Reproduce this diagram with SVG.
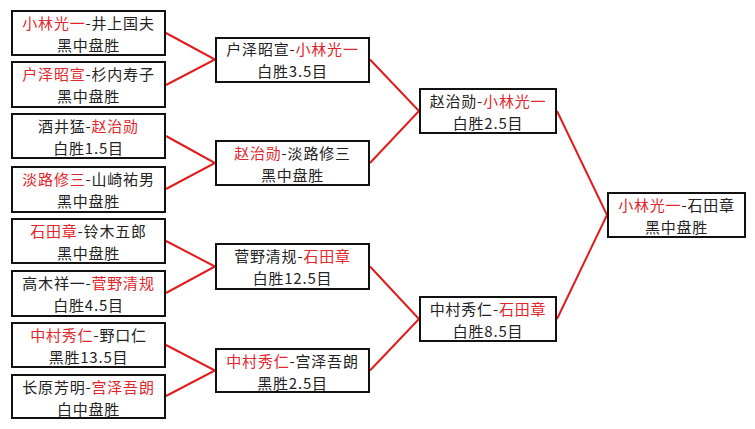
<svg xmlns="http://www.w3.org/2000/svg" width="755" height="429" viewBox="0 0 755 429">
<style>
.bg{fill:#ffffff}
.box{fill:#ffffff;stroke:#111111;stroke-width:2}
.t{font-family:"Noto Sans CJK SC","Noto Sans CJK JP",sans-serif;font-size:15px;letter-spacing:0.8px;fill:#222222;text-anchor:middle}
.r{fill:#e2262c}
.ln{stroke:#e21b1b;stroke-width:2;fill:none}
</style>
<rect class="bg" x="0" y="0" width="755" height="429"/>
<g id="connectors">
<polyline class="ln" points="166,33 215,59.5 166,85"/>
<polyline class="ln" points="166,136 215,163 166,189"/>
<polyline class="ln" points="166,241 215,266.5 166,293"/>
<polyline class="ln" points="166,345 215,370.5 166,396"/>
<polyline class="ln" points="370,59.5 419,111 370,163"/>
<polyline class="ln" points="370,266.5 419,319 370,370.5"/>
<polyline class="ln" points="557,111 607,215 557,319"/>
</g>
<g id="n1"><rect class="box" x="12" y="11" width="153" height="44"/>
<text class="t" x="88.5" y="29"><tspan class="r">小林光一</tspan>-井上国夫</text>
<text class="t" x="88.5" y="51">黑中盘胜</text></g>
<g id="n2"><rect class="box" x="12" y="62" width="153" height="45"/>
<text class="t" x="88.5" y="80"><tspan class="r">户泽昭宣</tspan>-杉内寿子</text>
<text class="t" x="88.5" y="102">黑中盘胜</text></g>
<g id="n3"><rect class="box" x="12" y="114" width="153" height="44"/>
<text class="t" x="88.5" y="132">酒井猛-<tspan class="r">赵治勋</tspan></text>
<text class="t" x="88.5" y="154">白胜1.5目</text></g>
<g id="n4"><rect class="box" x="12" y="167" width="153" height="45"/>
<text class="t" x="88.5" y="185"><tspan class="r">淡路修三</tspan>-山崎祐男</text>
<text class="t" x="88.5" y="207">黑中盘胜</text></g>
<g id="n5"><rect class="box" x="12" y="219" width="153" height="44"/>
<text class="t" x="88.5" y="237"><tspan class="r">石田章</tspan>-铃木五郎</text>
<text class="t" x="88.5" y="259">黑中盘胜</text></g>
<g id="n6"><rect class="box" x="12" y="271" width="153" height="45"/>
<text class="t" x="88.5" y="289">高木祥一-<tspan class="r">菅野清规</tspan></text>
<text class="t" x="88.5" y="311">白胜4.5目</text></g>
<g id="n7"><rect class="box" x="12" y="323" width="153" height="44"/>
<text class="t" x="88.5" y="341"><tspan class="r">中村秀仁</tspan>-野口仁</text>
<text class="t" x="88.5" y="363">黑胜13.5目</text></g>
<g id="n8"><rect class="box" x="12" y="375" width="153" height="43"/>
<text class="t" x="88.5" y="393">长原芳明-<tspan class="r">宫泽吾朗</tspan></text>
<text class="t" x="88.5" y="415">白中盘胜</text></g>
<g id="a"><rect class="box" x="216" y="38" width="153" height="44"/>
<text class="t" x="292.5" y="55">户泽昭宣-<tspan class="r">小林光一</tspan></text>
<text class="t" x="292.5" y="77">白胜3.5目</text></g>
<g id="b"><rect class="box" x="216" y="141" width="153" height="44"/>
<text class="t" x="292.5" y="159"><tspan class="r">赵治勋</tspan>-淡路修三</text>
<text class="t" x="292.5" y="181">黑中盘胜</text></g>
<g id="c"><rect class="box" x="216" y="244" width="153" height="45"/>
<text class="t" x="292.5" y="262">菅野清规-<tspan class="r">石田章</tspan></text>
<text class="t" x="292.5" y="284">白胜12.5目</text></g>
<g id="d"><rect class="box" x="216" y="349" width="153" height="43"/>
<text class="t" x="292.5" y="367"><tspan class="r">中村秀仁</tspan>-宫泽吾朗</text>
<text class="t" x="292.5" y="389">黑胜2.5目</text></g>
<g id="e"><rect class="box" x="420" y="89" width="136" height="44"/>
<text class="t" x="488" y="107">赵治勋-<tspan class="r">小林光一</tspan></text>
<text class="t" x="488" y="129">白胜2.5目</text></g>
<g id="f"><rect class="box" x="420" y="297" width="136" height="44"/>
<text class="t" x="488" y="315">中村秀仁-<tspan class="r">石田章</tspan></text>
<text class="t" x="488" y="337">白胜8.5目</text></g>
<g id="g"><rect class="box" x="608" y="193" width="137" height="44"/>
<text class="t" x="676.5" y="211"><tspan class="r">小林光一</tspan>-石田章</text>
<text class="t" x="676.5" y="233">黑中盘胜</text></g>
</svg>
